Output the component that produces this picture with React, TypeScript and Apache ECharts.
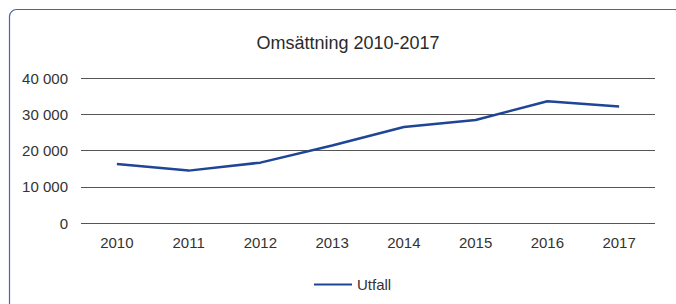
import React, { useEffect, useRef } from "react";
import * as echarts from "echarts";

const categories = ["2010", "2011", "2012", "2013", "2014", "2015", "2016", "2017"];
const utfall = [16300, 14450, 16650, 21400, 26500, 28400, 33600, 32150];
const yTicks = [0, 10000, 20000, 30000, 40000];
const titleText = "Omsättning 2010-2017";
const seriesName = "Utfall";

const fmt = (v: number) => (v === 0 ? "0" : String(v).replace(/\B(?=(\d{3})+(?!\d))/g, " "));

export default function App() {
  const ref = useRef<HTMLDivElement>(null);
  useEffect(() => {
    if (!ref.current) return;
    const chart = echarts.init(ref.current, null, { renderer: "svg" });
    const font = "'Liberation Sans', Arial, sans-serif";
    chart.setOption({
      animation: false,
      backgroundColor: "#ffffff",
      textStyle: { fontFamily: font },
      title: {
        text: titleText,
        left: 343,
        textAlign: "center",
        top: 29,
        textStyle: { fontSize: 18, fontWeight: "normal", color: "#2a2a2a", fontFamily: font },
      },
      graphic: [
        {
          type: "rect",
          shape: { x: 9.5, y: 9.5, width: 672, height: 320, r: 7 },
          style: { fill: "none", stroke: "#4565ac", lineWidth: 1.2 },
          silent: true,
        },
      ],
      legend: {
        data: [seriesName],
        left: 309,
        top: 272,
        itemWidth: 38,
        itemHeight: 14,
        itemGap: 11,
        icon: "path://M0,6 L38,6 L38,8 L0,8 Z",
        textStyle: { fontSize: 15, color: "#333", fontFamily: font },
      },
      grid: { left: 81, right: 21, top: 78, bottom: 81, containLabel: false },
      xAxis: {
        type: "category",
        data: categories,
        boundaryGap: true,
        axisLine: { show: false },
        axisTick: { show: false },
        axisLabel: { fontSize: 15, color: "#333", margin: 12, fontFamily: font },
      },
      yAxis: {
        type: "value",
        min: yTicks[0],
        max: yTicks[yTicks.length - 1],
        interval: 10000,
        axisLine: { show: false },
        axisTick: { show: false },
        axisLabel: { fontSize: 15, color: "#333", margin: 13, formatter: fmt, fontFamily: font },
        splitLine: { lineStyle: { color: "#555", width: 1 } },
      },
      series: [
        {
          name: seriesName,
          type: "line",
          data: utfall,
          symbol: "none",
          lineStyle: { color: "#1f4596", width: 2.5 },
          itemStyle: { color: "#1f4596" },
        },
      ],
    });
    return () => chart.dispose();
  }, []);
  return (
    <div
      ref={ref}
      style={{ position: "absolute", left: 0, top: 0, width: 676, height: 304 }}
    />
  );
}
